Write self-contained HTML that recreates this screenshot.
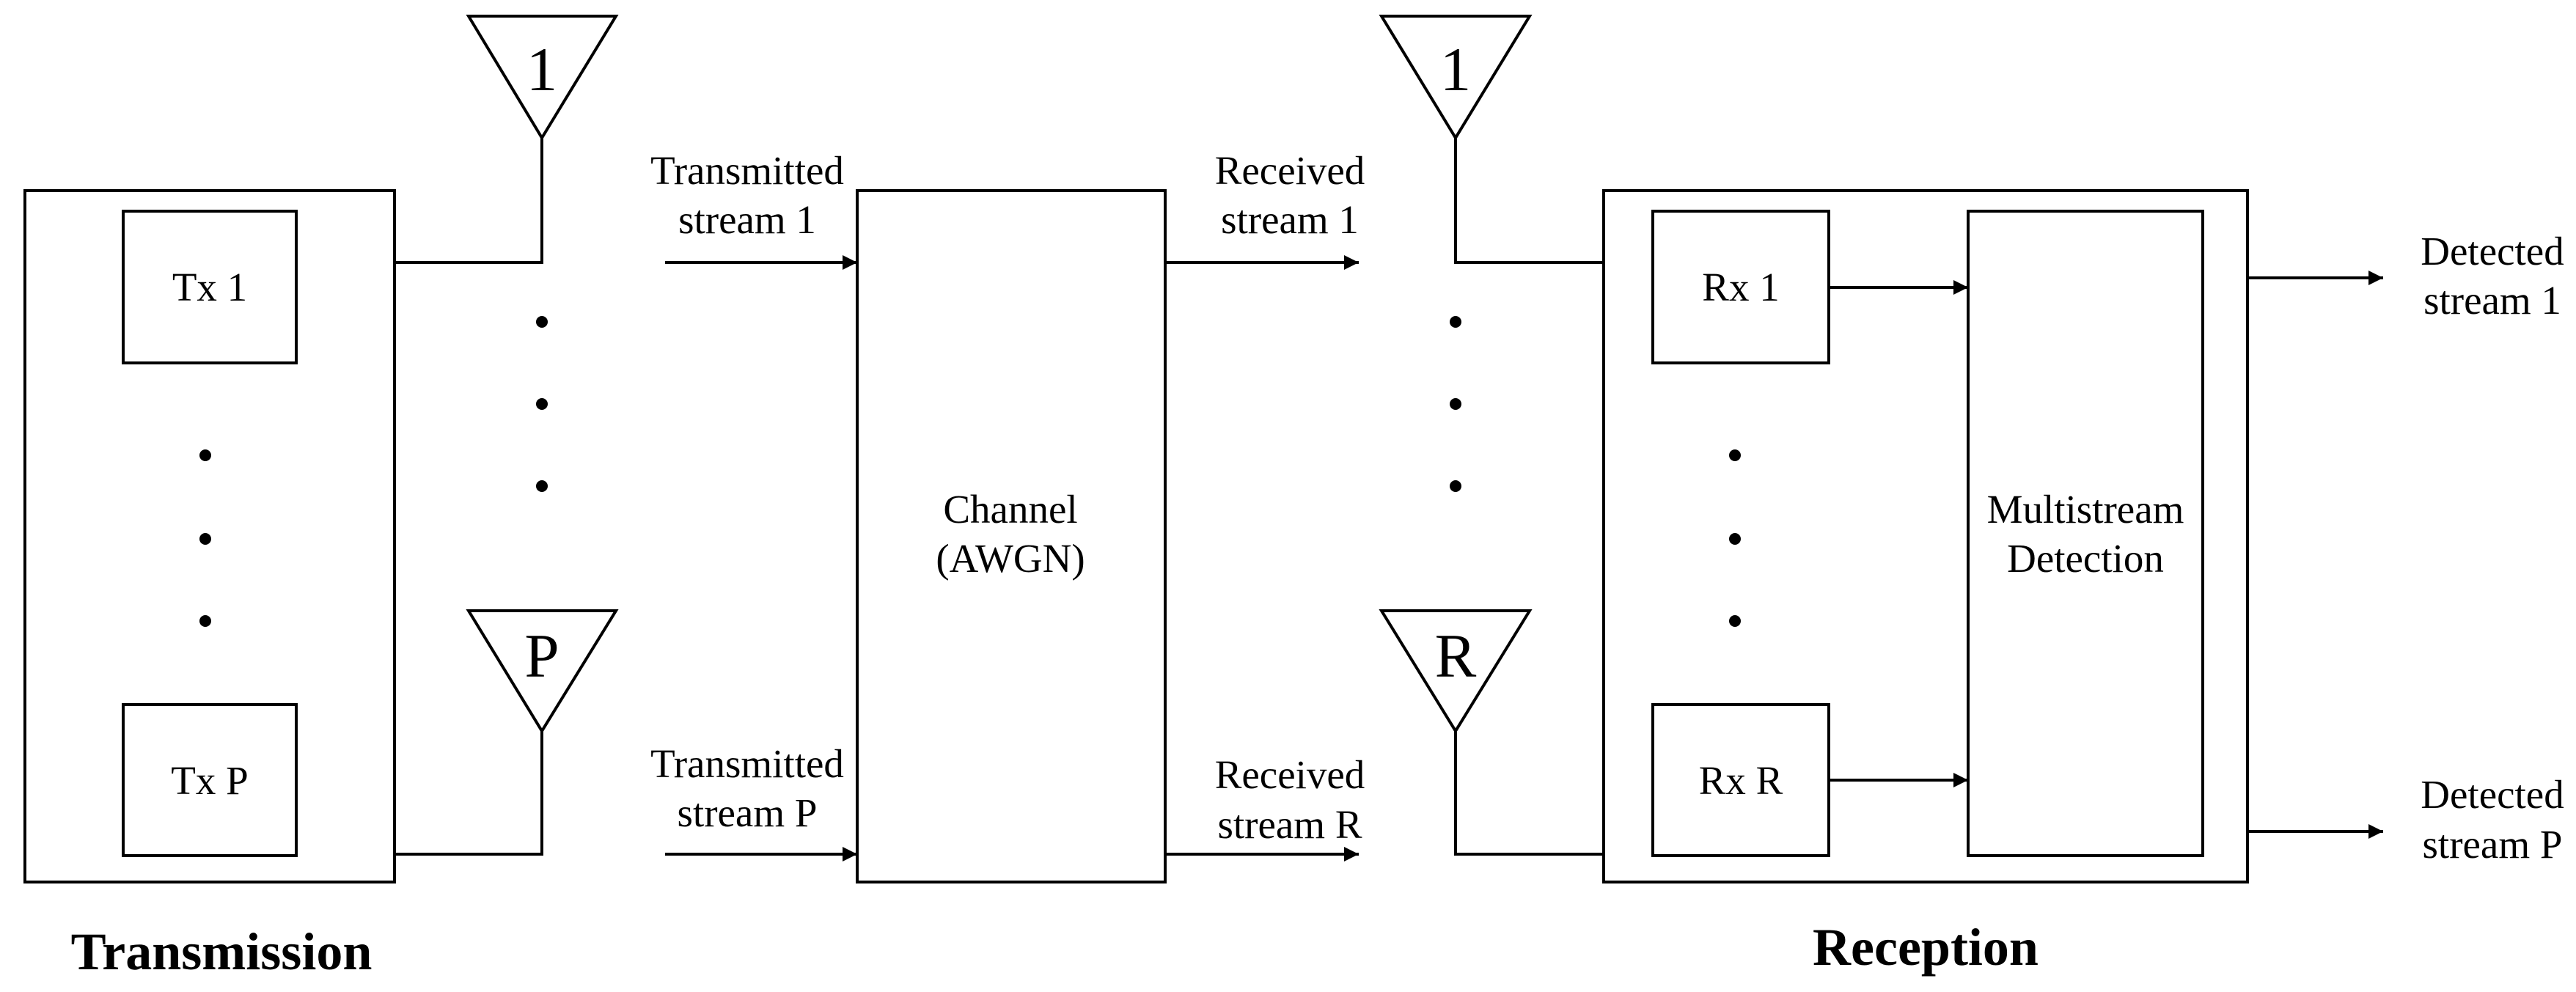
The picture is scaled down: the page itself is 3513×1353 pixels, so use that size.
<!DOCTYPE html>
<html><head><meta charset="utf-8"><style>
html,body{margin:0;padding:0;background:#fff;}
svg{display:block;}
text{font-family:"Liberation Serif",serif;fill:#000;}
</style></head><body>
<svg width="3513" height="1353" viewBox="0 0 3513 1353" xmlns="http://www.w3.org/2000/svg">
<defs>
<marker id="ah" viewBox="0 0 10 10" refX="10" refY="5" markerWidth="6" markerHeight="5" markerUnits="strokeWidth" orient="auto"><path d="M0,0 L10,5 L0,10 z" fill="#000"/></marker>
</defs>
<g fill="none" stroke="#000" stroke-width="4">
<!-- Tx -->
<rect x="34" y="260" width="504" height="943"/>
<rect x="168" y="288" width="236" height="207"/>
<rect x="168" y="961" width="236" height="206"/>
<!-- antennas tx -->
<polygon points="639,22 840,22 739,188"/>
<polygon points="639,833 840,833 739,997"/>
<polyline points="538,358 739,358 739,188"/>
<polyline points="538,1165 739,1165 739,997"/>
<!-- channel -->
<rect x="1169" y="260" width="420" height="943"/>
<line x1="907" y1="358" x2="1169" y2="358" marker-end="url(#ah)"/>
<line x1="907" y1="1165" x2="1169" y2="1165" marker-end="url(#ah)"/>
<line x1="1589" y1="358" x2="1853" y2="358" marker-end="url(#ah)"/>
<line x1="1589" y1="1165" x2="1853" y2="1165" marker-end="url(#ah)"/>
<!-- rx antennas -->
<polygon points="1884,22 2086,22 1985,188"/>
<polygon points="1884,833 2086,833 1985,997"/>
<polyline points="1985,188 1985,358 2187,358"/>
<polyline points="1985,997 1985,1165 2187,1165"/>
<!-- rx -->
<rect x="2187" y="260" width="878" height="943"/>
<rect x="2254" y="288" width="240" height="207"/>
<rect x="2254" y="961" width="240" height="206"/>
<rect x="2684" y="288" width="320" height="879"/>
<line x1="2494" y1="392" x2="2684" y2="392" marker-end="url(#ah)"/>
<line x1="2494" y1="1064" x2="2684" y2="1064" marker-end="url(#ah)"/>
<line x1="3065" y1="379" x2="3250" y2="379" marker-end="url(#ah)"/>
<line x1="3065" y1="1134" x2="3250" y2="1134" marker-end="url(#ah)"/>
</g>
<g fill="#000">
<circle cx="280" cy="621" r="8"/><circle cx="280" cy="735" r="8"/><circle cx="280" cy="847" r="8"/>
<circle cx="739" cy="439" r="8"/><circle cx="739" cy="551" r="8"/><circle cx="739" cy="663" r="8"/>
<circle cx="1985" cy="439" r="8"/><circle cx="1985" cy="551" r="8"/><circle cx="1985" cy="663" r="8"/>
<circle cx="2366" cy="621" r="8"/><circle cx="2366" cy="735" r="8"/><circle cx="2366" cy="847" r="8"/>
</g>
<g font-size="55" text-anchor="middle">
<text x="286" y="410">Tx 1</text>
<text x="286" y="1083">Tx P</text>
<text x="2374" y="410">Rx 1</text>
<text x="2374" y="1083">Rx R</text>
<text x="1019" y="251">Transmitted</text>
<text x="1019" y="318">stream 1</text>
<text x="1019" y="1060">Transmitted</text>
<text x="1019" y="1127">stream P</text>
<text x="1759" y="251">Received</text>
<text x="1759" y="318">stream 1</text>
<text x="1759" y="1075">Received</text>
<text x="1759" y="1143">stream R</text>
<text x="1378" y="713">Channel</text>
<text x="1378" y="780">(AWGN)</text>
<text x="2844" y="713">Multistream</text>
<text x="2844" y="780">Detection</text>
<text x="3399" y="361">Detected</text>
<text x="3399" y="428">stream 1</text>
<text x="3399" y="1102">Detected</text>
<text x="3399" y="1170">stream P</text>
</g>
<g font-size="85" text-anchor="middle">
<text x="739" y="123">1</text>
<text x="739" y="923">P</text>
<text x="1985" y="123">1</text>
<text x="1985" y="923">R</text>
</g>
<g font-size="72" font-weight="bold" text-anchor="middle">
<text x="302" y="1322">Transmission</text>
<text x="2626" y="1316">Reception</text>
</g>
</svg>
</body></html>
